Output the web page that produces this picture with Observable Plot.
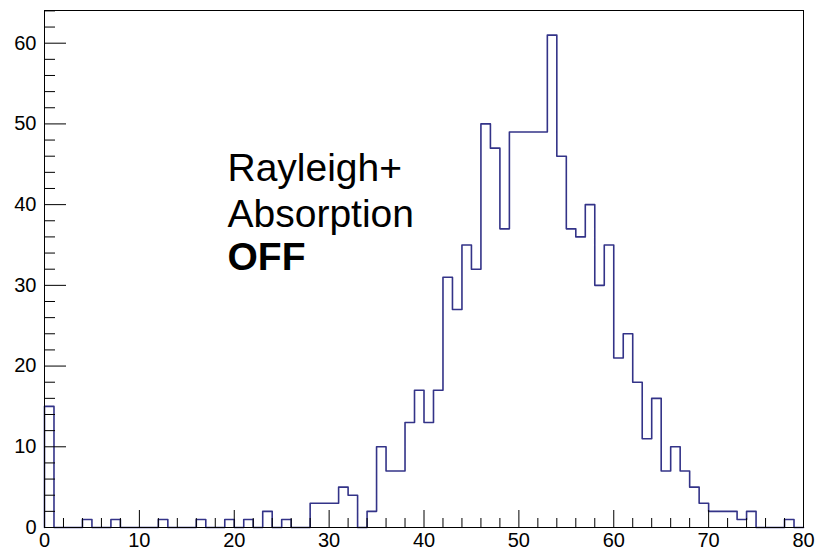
<!DOCTYPE html>
<html>
<head>
<meta charset="utf-8">
<script src="https://cdn.jsdelivr.net/npm/d3@7"></script>
<script src="https://cdn.jsdelivr.net/npm/@observablehq/plot@0.6"></script>
<style>
  html, body { margin: 0; padding: 0; background: #fff; }
  #chart svg { display: block; }
</style>
</head>
<body>
<div id="chart"></div>
<script>
// Histogram: 80 bins of width 1 from 0 to 80
const binLow = 0;
const binWidth = 1;
const counts = [
  15, 0, 0, 0, 1, 0, 0, 1, 0, 0,
   0, 0, 1, 0, 0, 0, 1, 0, 0, 1,
   0, 1, 0, 2, 0, 1, 0, 0, 3, 3,
   3, 5, 4, 0, 2, 10, 7, 7, 13, 17,
  13, 17, 31, 27, 35, 32, 50, 47, 37, 49,
  49, 49, 49, 61, 46, 37, 36, 40, 30, 35,
  21, 24, 18, 11, 16, 7, 10, 7, 5, 3,
   2, 2, 2, 1, 2, 0, 0, 0, 1, 0
];

const xMajorTicks = [0, 10, 20, 30, 40, 50, 60, 70, 80];
const xMinorTicks = [2, 4, 6, 8, 12, 14, 16, 18, 22, 24, 26, 28, 32, 34, 36, 38, 42, 44, 46, 48, 52, 54, 56, 58, 62, 64, 66, 68, 72, 74, 76, 78];
const yMajorTicks = [0, 10, 20, 30, 40, 50, 60];
const yMinorTicks = [2, 4, 6, 8, 12, 14, 16, 18, 22, 24, 26, 28, 32, 34, 36, 38, 42, 44, 46, 48, 52, 54, 56, 58, 62, 64];

const annotationRegular = ["Rayleigh+", "Absorption"];
const annotationBold = ["OFF"];

const xDomain = [0, 80];
const yMax = d3.max(counts) * 1.05;

// step outline points
const nBins = counts.length;
const steps = [{x: binLow, y: 0}];
counts.forEach((c, i) => steps.push({x: binLow + i * binWidth, y: c}));
steps.push({x: binLow + nBins * binWidth, y: counts[nBins - 1]});

const font = "'Liberation Sans', Arial, Helvetica, sans-serif";

const chart = Plot.plot({
  width: 815,
  height: 552,
  marginLeft: 44,
  marginRight: 12,
  marginTop: 10,
  marginBottom: 25,
  style: {fontFamily: font, fontSize: "20px", color: "black", background: "white"},
  x: {domain: xDomain},
  y: {domain: [0, yMax]},
  marks: [
    Plot.line(steps, {x: "x", y: "y", curve: "step-after", stroke: "#333388", strokeWidth: 1.6}),
    // inward ticks
    Plot.axisY(yMajorTicks, {tickSize: -22, fill: "none", label: null}),
    Plot.axisY(yMinorTicks, {tickSize: -11, fill: "none", label: null}),
    Plot.axisX(xMajorTicks, {tickSize: -17, fill: "none", label: null}),
    Plot.axisX(xMinorTicks, {tickSize: -9, fill: "none", label: null}),
    // tick labels
    Plot.axisY(yMajorTicks, {tickSize: 0, tickPadding: 8, stroke: "none", label: null, fontSize: 20}),
    Plot.axisX(xMajorTicks, {tickSize: 0, tickPadding: 5, stroke: "none", label: null, fontSize: 20}),
    Plot.frame({stroke: "black", strokeWidth: 1}),
    // annotation
    Plot.text([annotationRegular[0]], {text: d => d, frameAnchor: "top-left", dx: 183, dy: 170, lineAnchor: "bottom", textAnchor: "start", fontSize: 39, fill: "black"}),
    Plot.text([annotationRegular[1]], {text: d => d, frameAnchor: "top-left", dx: 183, dy: 216, lineAnchor: "bottom", textAnchor: "start", fontSize: 39, fill: "black"}),
    Plot.text(annotationBold, {text: d => d, frameAnchor: "top-left", dx: 183, dy: 259, lineAnchor: "bottom", textAnchor: "start", fontSize: 39, fontWeight: "bold", fill: "black"})
  ]
});
document.getElementById("chart").appendChild(chart);
</script>
</body>
</html>
